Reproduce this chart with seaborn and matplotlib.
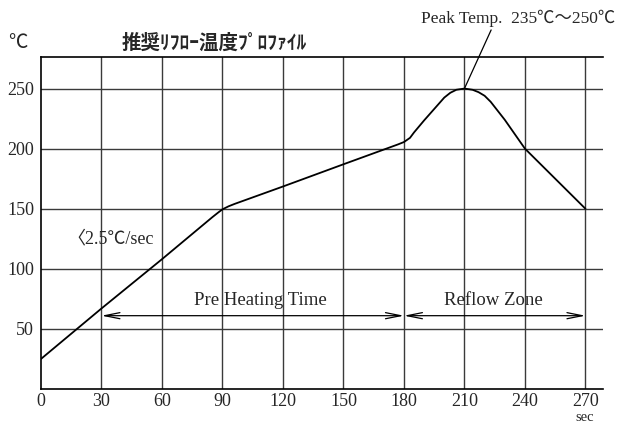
import pandas as pd
import matplotlib.pyplot as plt
import seaborn as sns

# reflow profile (time in sec, temperature in degC)
time_s = [0, 30, 60, 85, 88, 90, 93, 96, 120, 150, 177, 180, 183, 185, 190, 195,
          200, 203, 206, 210, 214, 217, 220, 223, 230, 240, 255, 270]
temp_c = [25, 67, 108, 143, 147, 149.5, 152, 154, 168.5, 187, 203.5, 205.5, 209, 213.5, 223.5, 233,
          242.5, 246.5, 249, 250, 249, 247, 244, 239, 224, 200, 175, 150]
x_ticks = [0, 30, 60, 90, 120, 150, 180, 210, 240, 270]
y_ticks = [50, 100, 150, 200, 250]

title_text = "推奨ﾘﾌﾛｰ温度ﾌﾟﾛﾌｧｲﾙ"
peak_text = "Peak Temp.  235℃～250℃"
rate_text = "〈2.5℃/sec"
zone_labels = ["Pre Heating Time", "Reflow Zone"]
zone_edges = [30, 180, 270]

profile = pd.DataFrame({"time": time_s, "temp": temp_c})

sns.set_style("white")
serif = ["Liberation Serif", "Noto Sans CJK JP", "DejaVu Sans"]
plt.rcParams["font.family"] = serif

fig = plt.figure(figsize=(6.18, 4.23), dpi=100)
ax = fig.add_axes([0.0663, 0.0804, 0.9094, 0.7841])

sns.lineplot(data=profile, x="time", y="temp", color="black", linewidth=1.3, ax=ax)

ax.set_xlim(0, 278.7)
ax.set_ylim(0, 276)
ax.set_xticks(x_ticks)
ax.set_yticks(y_ticks)
ax.tick_params(length=0, labelsize=13)
ax.tick_params(axis="x", pad=3)
ax.tick_params(axis="y", pad=5)
ax.set_xlabel("")
ax.set_ylabel("")

# grid (skip the 0 line which is the spine)
for x in x_ticks[1:]:
    ax.axvline(x, color="#3a3a3a", linewidth=1.0, zorder=0)
for y in y_ticks:
    ax.axhline(y, color="#3a3a3a", linewidth=1.0, zorder=0)
ax.grid(False)

for side in ["left", "bottom", "top"]:
    ax.spines[side].set_color("black")
    ax.spines[side].set_linewidth(1.2)
ax.spines["right"].set_visible(False)

# zone arrows
arrow_y = 61
for a, b in zip(zone_edges[:-1], zone_edges[1:]):
    ax.annotate("", xy=(b, arrow_y), xytext=(a, arrow_y),
                arrowprops=dict(arrowstyle="<->, head_length=1.1, head_width=0.22",
                                color="black", linewidth=0.9, shrinkA=0, shrinkB=0))
ax.text(108.6, 73.6, zone_labels[0], fontsize=13.5, ha="center", va="center")
ax.text(224.4, 73.6, zone_labels[1], fontsize=13.5, ha="center", va="center")

ax.text(13, 125, rate_text, fontsize=13, ha="left", va="center")

# peak callout
ax.annotate(peak_text, xy=(210, 250), xytext=(236.5, 301.5),
            fontsize=12.5, ha="center", va="bottom", annotation_clip=False,
            arrowprops=dict(arrowstyle="-", color="black", linewidth=0.9,
                            shrinkA=0, shrinkB=0, relpos=(0.37, 0)))

fig.text(18 / 618, 1 - 43 / 423, "℃", fontsize=14, ha="center", va="center",
         family=["Noto Sans CJK JP", "DejaVu Sans"])
fig.text(214 / 618, 1 - 43 / 423, title_text, fontsize=14, fontweight="bold",
         ha="center", va="center", family=["Noto Sans CJK JP", "DejaVu Sans"])
fig.text(585 / 618, 1 - 417 / 423, "sec", fontsize=10.5, ha="center", va="center")

fig.savefig("out.png", dpi=100)
